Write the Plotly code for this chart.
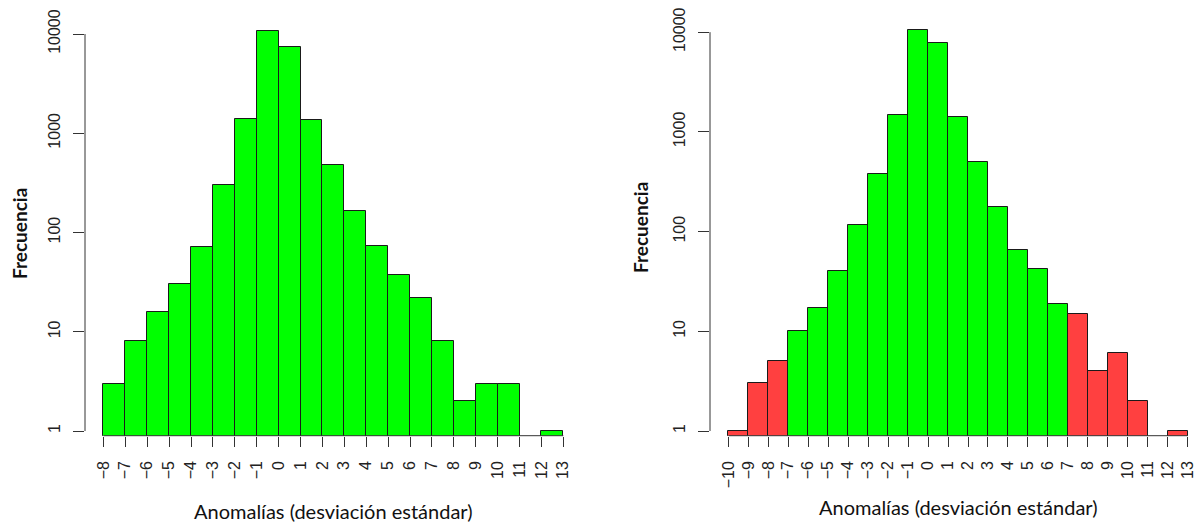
import plotly.graph_objects as go

# ---- data ----
edges_left = list(range(-8, 14))
counts_left = [3, 8, 16, 30, 71, 300, 1400, 10800, 7450, 1350, 475, 165, 73, 37, 22, 8, 2, 3, 3, 0, 1]

edges_right = list(range(-10, 14))
counts_right = [1, 3, 5, 10, 17, 40, 117, 378, 1460, 10450, 7700, 1395, 500, 176, 66, 42, 19, 15, 4, 6, 2, 0, 1]

y_ticks = [1, 10, 100, 1000, 10000]
y_ticktext = ["1", "10", "100", "1000", "10000"]

x_title = "Anomalías (desviación estándar)"
y_title = "Frecuencia"

GREEN = "#00FF00"
RED = "#FF4040"
EDGE = "#1a1a1a"
AXC = "#333333"

W, H = 1197, 524


def centers(edges):
    return [(edges[i] + edges[i + 1]) / 2 for i in range(len(edges) - 1)]


def fmt(v):
    return ("\u2212" + str(-v)) if v < 0 else str(v)


fig = go.Figure()

xl = centers(edges_left)
fig.add_trace(go.Bar(
    x=xl, y=[c if c > 0 else None for c in counts_left], width=1,
    marker=dict(color=GREEN, line=dict(color=EDGE, width=1)),
    xaxis="x", yaxis="y", showlegend=False))

xr = centers(edges_right)
colors_r = [RED if (edges_right[i] < -7 or edges_right[i] >= 7) else GREEN for i in range(len(xr))]
fig.add_trace(go.Bar(
    x=xr, y=[c if c > 0 else None for c in counts_right], width=1,
    marker=dict(color=colors_r, line=dict(color=EDGE, width=1)),
    xaxis="x2", yaxis="y2", showlegend=False))

# layout geometry (pixels)
y_bottom_px, y_top_px = 435.7, 20
ydom = [1 - y_bottom_px / H, 1 - y_top_px / H]

pad_l = 0.04 * (edges_left[-1] - edges_left[0])
xr_left = [edges_left[0] - pad_l, edges_left[-1] + pad_l]
pad_r = 0.04 * (edges_right[-1] - edges_right[0])
xr_right_start = edges_right[0] - pad_r
px_per_unit_r = 19.97
xr_right = [xr_right_start, xr_right_start + (W - 710) / px_per_unit_r]

tickfont = dict(family="Liberation Sans, Arial, sans-serif", size=16, color="#222")

common_x = dict(showgrid=False, zeroline=False, showline=False, ticks="outside",
                ticklen=10, tickwidth=1, tickcolor=AXC, tickangle=-90,
                tickfont=tickfont, ticklabelstandoff=8, automargin=False)
common_y = dict(type="log", showgrid=False, zeroline=False, showline=False,
                ticks="outside", ticklen=11, tickwidth=1, tickcolor=AXC,
                tickangle=-90, tickfont=tickfont, tickvals=y_ticks,
                ticktext=y_ticktext, domain=ydom, ticklabelstandoff=7,
                automargin=False)

fig.update_layout(
    width=W, height=H,
    margin=dict(l=0, r=0, t=0, b=0),
    paper_bgcolor="white", plot_bgcolor="white",
    bargap=0,
    xaxis=dict(common_x, domain=[85 / W, 581.7 / W], range=xr_left,
               tickvals=edges_left, ticktext=[fmt(v) for v in edges_left],
               anchor="y"),
    yaxis=dict(common_y, range=[-0.047, 4.141], anchor="x"),
    xaxis2=dict(common_x, domain=[710 / W, 1.0], range=xr_right,
                tickvals=edges_right, ticktext=[fmt(v) for v in edges_right],
                anchor="y2"),
    yaxis2=dict(common_y, range=[-0.047, 4.122], anchor="x2"),
)

# axis lines spanning only the tick range (R style)
for xa, ya, edges in (("x", "y", edges_left), ("x2", "y2", edges_right)):
    fig.add_shape(type="line", xref=xa, yref=ya + " domain",
                  x0=edges[0], x1=edges[-1], y0=0, y1=0,
                  line=dict(color=AXC, width=1))
    fig.add_shape(type="line", xref=xa + " domain", yref=ya,
                  x0=0, x1=0, y0=y_ticks[0], y1=y_ticks[-1],
                  line=dict(color=AXC, width=1))

title_font = dict(family="Lato, Open Sans, sans-serif", size=20, color="#111")
ylab_font = dict(family="Lato, Open Sans, sans-serif", size=19, color="#111")

# x titles centred on plot regions
fig.add_annotation(text=x_title, xref="x", x=sum(xr_left) / 2, yref="paper",
                   y=1 - 511 / H, xanchor="center", yanchor="middle",
                   showarrow=False, font=title_font)
fig.add_annotation(text=x_title, xref="x2",
                   x=(xr_right_start + edges_right[-1] + pad_r) / 2, yref="paper",
                   y=1 - 507 / H, xanchor="center", yanchor="middle",
                   showarrow=False, font=title_font)

fig.add_annotation(text="<b>" + y_title + "</b>", xref="paper", x=19 / W,
                   yref="paper", y=1 - 234 / H, xanchor="center", yanchor="middle",
                   textangle=-90, showarrow=False, font=ylab_font)
fig.add_annotation(text="<b>" + y_title + "</b>", xref="paper", x=641 / W,
                   yref="paper", y=1 - 228 / H, xanchor="center", yanchor="middle",
                   textangle=-90, showarrow=False, font=ylab_font)

fig.write_html("out.html")
